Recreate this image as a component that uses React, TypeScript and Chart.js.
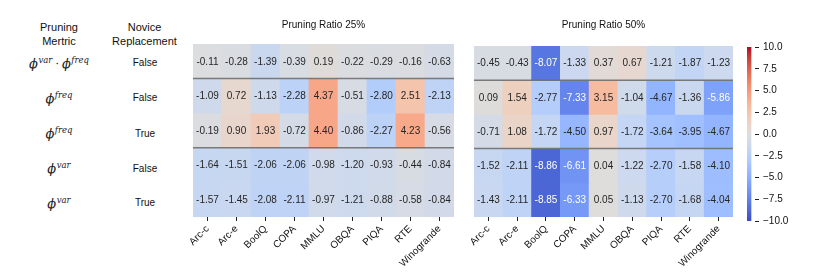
import React, { useEffect, useRef } from "react";
import { Chart, registerables } from "chart.js";
Chart.register(...registerables);

// ---------- data ----------
const tasks = ["Arc-c", "Arc-e", "BoolQ", "COPA", "MMLU", "OBQA", "PIQA", "RTE", "Winogrande"];
const noviceLabels = ["False", "False", "True", "False", "True"];
const metricKinds = ["both", "freq", "freq", "var", "var"];

const ratio25Title = "Pruning Ratio 25%";
const ratio25 = [
  [-0.11, -0.28, -1.39, -0.39, 0.19, -0.22, -0.29, -0.16, -0.63],
  [-1.09, 0.72, -1.13, -2.28, 4.37, -0.51, -2.8, 2.51, -2.13],
  [-0.19, 0.9, 1.93, -0.72, 4.4, -0.86, -2.27, 4.23, -0.56],
  [-1.64, -1.51, -2.06, -2.06, -0.98, -1.2, -0.93, -0.44, -0.84],
  [-1.57, -1.45, -2.08, -2.11, -0.97, -1.21, -0.88, -0.58, -0.84],
];

const ratio50Title = "Pruning Ratio 50%";
const ratio50 = [
  [-0.45, -0.43, -8.07, -1.33, 0.37, 0.67, -1.21, -1.87, -1.23],
  [0.09, 1.54, -2.77, -7.33, 3.15, -1.04, -4.67, -1.36, -5.86],
  [-0.71, 1.08, -1.72, -4.5, 0.97, -1.72, -3.64, -3.95, -4.67],
  [-1.52, -2.11, -8.86, -6.61, 0.04, -1.22, -2.7, -1.58, -4.1],
  [-1.43, -2.11, -8.85, -6.33, 0.05, -1.13, -2.7, -1.68, -4.04],
];

const separatorRows = [1, 3];
const colorMin = -10;
const colorMax = 10;
const colorbarStep = 2.5;

// ---------- colormap (coolwarm) ----------
const coolwarmTable: number[][] = [
  [59, 76, 192], [68, 90, 204], [77, 104, 215], [87, 117, 225], [98, 130, 234],
  [108, 142, 241], [119, 154, 247], [130, 165, 251], [141, 176, 254], [152, 185, 255],
  [163, 194, 255], [174, 201, 253], [184, 208, 249], [194, 213, 244], [204, 217, 238],
  [213, 219, 230], [221, 221, 221], [229, 216, 209], [236, 211, 197], [241, 204, 185],
  [245, 196, 173], [247, 187, 160], [247, 177, 148], [247, 166, 135], [244, 154, 123],
  [241, 141, 111], [236, 127, 99], [229, 112, 88], [222, 96, 77], [213, 80, 66],
  [203, 62, 56], [192, 40, 47], [180, 4, 38],
];

function coolwarmRGB(v: number): number[] {
  let t = (v - colorMin) / (colorMax - colorMin);
  t = Math.max(0, Math.min(1, t));
  const n = coolwarmTable.length - 1;
  const p = t * n;
  const i = Math.min(n - 1, Math.floor(p));
  const f = p - i;
  const a = coolwarmTable[i];
  const b = coolwarmTable[i + 1];
  return [0, 1, 2].map((k) => a[k] + (b[k] - a[k]) * f);
}
function coolwarm(v: number): string {
  const c = coolwarmRGB(v);
  return `rgb(${Math.round(c[0])},${Math.round(c[1])},${Math.round(c[2])})`;
}
function textColorFor(v: number): string {
  const c = coolwarmRGB(v).map((x) => {
    const s = x / 255;
    return s <= 0.03928 ? s / 12.92 : Math.pow((s + 0.055) / 1.055, 2.4);
  });
  const lum = 0.2126 * c[0] + 0.7152 * c[1] + 0.0722 * c[2];
  return lum > 0.408 ? "#262626" : "#ffffff";
}

const FONT = "'Liberation Sans', Arial, Helvetica, sans-serif";
Chart.defaults.font.family = FONT;
Chart.defaults.color = "#111";

// ---------- heatmap chart ----------
function Heatmap(props: {
  rows: number[][];
  title: string;
  left: number;
  width: number;
  padLeft: number;
  areaWidth: number;
  top: number;
}) {
  const ref = useRef<HTMLCanvasElement | null>(null);
  const { rows, title, left, width, padLeft, areaWidth, top } = props;
  useEffect(() => {
    if (!ref.current) return;
    const annot = {
      id: "annot",
      afterDatasetsDraw(chart: any) {
        const ctx = chart.ctx;
        ctx.save();
        ctx.font = `10px ${FONT}`;
        ctx.textAlign = "center";
        ctx.textBaseline = "middle";
        chart.data.datasets.forEach((ds: any, di: number) => {
          const meta = chart.getDatasetMeta(di);
          meta.data.forEach((el: any, i: number) => {
            const v = rows[di][i];
            ctx.fillStyle = textColorFor(v);
            ctx.fillText(v.toFixed(2), el.x, (el.y + el.base) / 2 + 0.5);
          });
        });
        const ys = chart.scales.y;
        const area = chart.chartArea;
        ctx.strokeStyle = "rgba(110,110,110,0.9)";
        ctx.lineWidth = 1.5;
        separatorRows.forEach((b) => {
          const py = ys.getPixelForValue(b);
          ctx.beginPath();
          ctx.moveTo(area.left, py);
          ctx.lineTo(area.right, py);
          ctx.stroke();
        });
        ctx.restore();
      },
    };
    const chart = new Chart(ref.current, {
      type: "bar",
      data: {
        labels: tasks,
        datasets: rows.map((vals, r) => ({
          label: `row${r}`,
          data: vals.map(() => [r, r + 1]),
          backgroundColor: vals.map((v) => coolwarm(v)),
          borderWidth: 0,
          barPercentage: 1,
          categoryPercentage: 1,
          grouped: false,
        })) as any,
      },
      options: {
        animation: false,
        responsive: false,
        events: [],
        layout: { padding: { left: padLeft, right: width - padLeft - areaWidth, top: 0, bottom: 0 } },
        plugins: {
          legend: { display: false },
          tooltip: { enabled: false },
          title: {
            display: true,
            text: title,
            color: "#111",
            font: { size: 10, weight: "normal" as any, family: FONT },
            padding: { top: 19, bottom: top - 19 - 12 },
          },
        },
        scales: {
          x: {
            type: "category",
            offset: true,
            border: { display: false },
            grid: {
              display: true,
              drawOnChartArea: false,
              drawTicks: true,
              tickLength: 4,
              tickColor: "#222",
              offset: false,
            },
            ticks: {
              autoSkip: false,
              maxRotation: 45,
              minRotation: 45,
              padding: 2,
              color: "#111",
              font: { size: 10, family: FONT },
            },
            afterFit: (s: any) => {
              s.height = 279 - 217;
            },
          },
          y: {
            type: "linear",
            min: 0,
            max: 5,
            reverse: true,
            display: false,
          },
        },
      },
      plugins: [annot],
    });
    return () => chart.destroy();
  }, []);
  return (
    <canvas
      ref={ref}
      width={width}
      height={279}
      style={{ position: "absolute", left, top: 0, width, height: 279 }}
    />
  );
}

// ---------- colorbar ----------
function Colorbar() {
  const ref = useRef<HTMLCanvasElement | null>(null);
  useEffect(() => {
    if (!ref.current) return;
    const chart = new Chart(ref.current, {
      type: "bar",
      data: {
        labels: ["cb"],
        datasets: [
          {
            data: [[colorMin, colorMax]] as any,
            borderWidth: 0,
            barPercentage: 1,
            categoryPercentage: 1,
            backgroundColor: (c: any) => {
              const ch = c.chart;
              const ys = ch.scales && ch.scales.y;
              if (!ys) return "#ddd";
              const y0 = ys.getPixelForValue(colorMin);
              const y1 = ys.getPixelForValue(colorMax);
              if (!Number.isFinite(y0) || !Number.isFinite(y1) || y0 === y1) return "#ddd";
              const g = ch.ctx.createLinearGradient(0, y0, 0, y1);
              const n = coolwarmTable.length - 1;
              coolwarmTable.forEach((col, i) => g.addColorStop(i / n, `rgb(${col[0]},${col[1]},${col[2]})`));
              return g;
            },
          },
        ],
      },
      options: {
        animation: false,
        responsive: false,
        events: [],
        layout: { padding: { left: 17, right: 0, top: 47, bottom: 279 - 221 } },
        plugins: { legend: { display: false }, tooltip: { enabled: false } },
        scales: {
          x: { display: false, offset: false },
          y: {
            position: "right",
            min: colorMin,
            max: colorMax,
            border: { display: false },
            grid: { drawOnChartArea: false, drawTicks: true, tickLength: 4, tickColor: "#222" },
            ticks: {
              stepSize: colorbarStep,
              padding: 4,
              color: "#111",
              font: { size: 10, family: FONT },
              callback: (v: any) => Number(v).toFixed(1).replace("-", "\u2212"),
            },
            afterFit: (s: any) => {
              s.width = 92 - 17 - 8;
            },
          },
        },
      },
    });
    return () => chart.destroy();
  }, []);
  return (
    <canvas ref={ref} width={92} height={279} style={{ position: "absolute", left: 730, top: 0, width: 92, height: 279 }} />
  );
}

// ---------- side labels ----------
const mathStyle: React.CSSProperties = { fontFamily: "'DejaVu Serif', serif", fontStyle: "italic", color: "#222" };
function Phi(props: { sup: string }) {
  return (
    <span>
      <span style={{ fontSize: 13 }}>{"\u03d5"}</span>
      <span style={{ fontSize: 8.5, position: "relative", top: -5, marginLeft: 0.5 }}>{props.sup}</span>
    </span>
  );
}
function MetricLabel(props: { kind: string }) {
  if (props.kind === "both")
    return (
      <span style={mathStyle}>
        <Phi sup="var" />
        <span style={{ fontStyle: "normal", fontSize: 11, padding: "0 3px" }}>{"\u00b7"}</span>
        <Phi sup="freq" />
      </span>
    );
  return (
    <span style={mathStyle}>
      <Phi sup={props.kind} />
    </span>
  );
}

const rowCenters = [63.5, 98.5, 134, 169, 203.5];

export default function App() {
  const textBase: React.CSSProperties = {
    position: "absolute",
    fontFamily: FONT,
    color: "#111",
    textAlign: "center",
    whiteSpace: "nowrap",
  };
  return (
    <div style={{ position: "absolute", left: 0, top: 0, width: 822, height: 279, background: "#fff", overflow: "hidden" }}>
      <div style={{ ...textBase, left: 59 - 60, width: 120, top: 20, fontSize: 11, lineHeight: "14px" }}>
        Pruning
        <br />
        Mertric
      </div>
      <div style={{ ...textBase, left: 144.5 - 60, width: 120, top: 20, fontSize: 11, lineHeight: "14px" }}>
        Novice
        <br />
        Replacement
      </div>
      {rowCenters.map((cy, i) => (
        <React.Fragment key={i}>
          <div style={{ ...textBase, left: 59 - 60, width: 120, top: cy - 10, height: 20, lineHeight: "20px", fontSize: 13 }}>
            <MetricLabel kind={metricKinds[i]} />
          </div>
          <div style={{ ...textBase, left: 145 - 40, width: 80, top: cy - 7.5, height: 14, lineHeight: "14px", fontSize: 10 }}>
            {noviceLabels[i]}
          </div>
        </React.Fragment>
      ))}
      <Heatmap rows={ratio25} title={ratio25Title} left={150} width={330} padLeft={43} areaWidth={261} top={44} />
      <Heatmap rows={ratio50} title={ratio50Title} left={440} width={320} padLeft={34} areaWidth={259} top={46} />
      <Colorbar />
    </div>
  );
}
